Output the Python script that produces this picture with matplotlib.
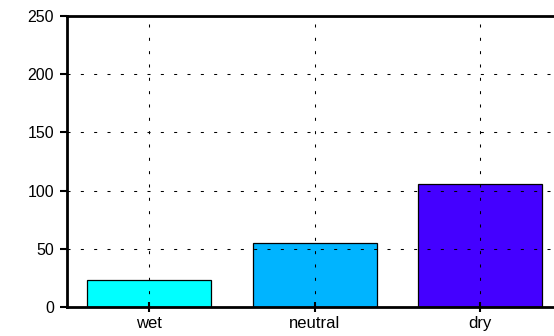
import matplotlib
matplotlib.use("Agg")
import matplotlib.pyplot as plt

categories = ["wet", "neutral", "dry"]
counts = [23, 55, 106]
bar_colors = ["#00ffff", "#00b4ff", "#4400ff"]
y_ticks = [0, 50, 100, 150, 200, 250]

plt.rcParams["font.family"] = ["Liberation Sans", "DejaVu Sans"]

fig = plt.figure(figsize=(5.54, 3.36), dpi=100)
# right edge deliberately runs past the figure, as in the reference
ax = fig.add_axes([66.5 / 554, 1 - 307.3 / 336, (563 - 66.5) / 554, (307.3 - 15.7) / 336])

x = list(range(len(categories)))
ax.bar(x, counts, width=0.75, color=bar_colors, edgecolor="black", linewidth=0.9, zorder=2)

ax.set_xlim(-0.5, 2.5)
ax.set_ylim(0, 250)
ax.set_xticks(x)
ax.set_xticklabels(categories)
ax.set_yticks(y_ticks)

ax.grid(True, color="black", linestyle=(0, (2.9, 9.9)), linewidth=0.75, zorder=3)
ax.set_axisbelow(False)

for side in ["left", "bottom", "top", "right"]:
    ax.spines[side].set_linewidth(2)

ax.tick_params(axis="y", direction="out", length=5, width=1.5, labelsize=11.5, pad=4)
ax.tick_params(axis="x", direction="inout", length=7, width=1.5, labelsize=12, pad=3)

fig.savefig("out.png", dpi=100)
